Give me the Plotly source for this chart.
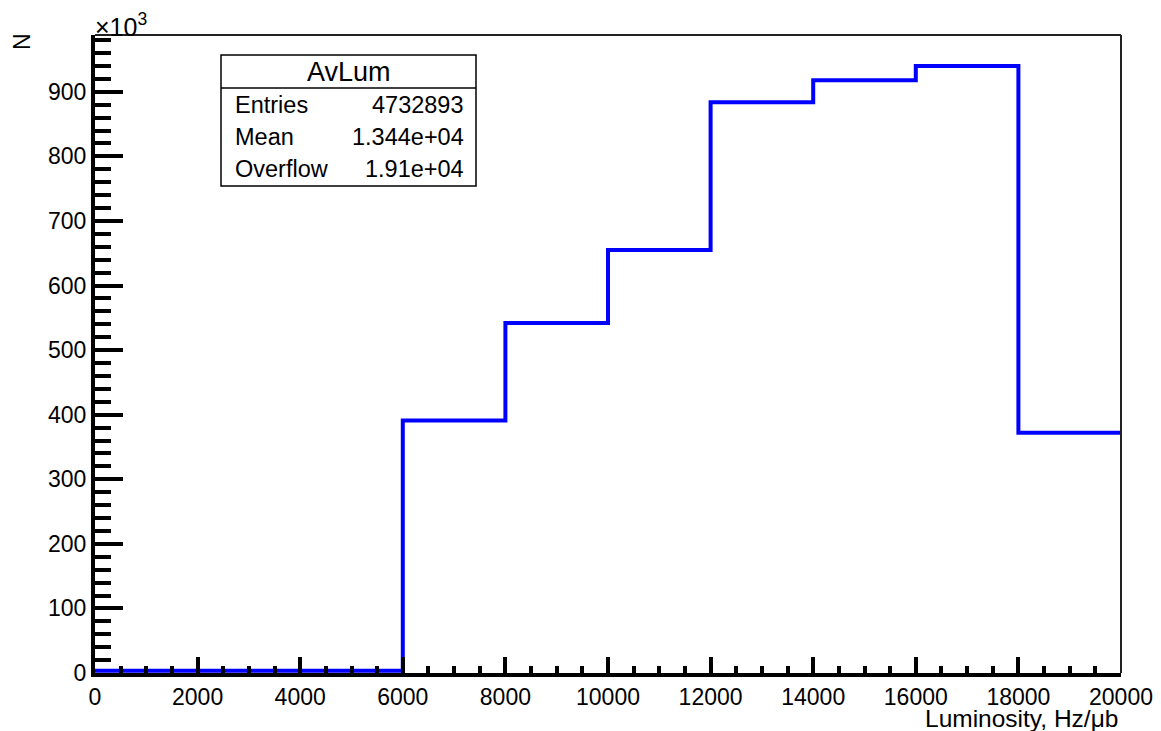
import plotly.graph_objects as go

# Histogram "AvLum": bin edges and contents (counts)
bin_edges = [0, 2000, 4000, 6000, 8000, 10000, 12000, 14000, 16000, 18000, 20000]
counts = [3500, 3500, 3500, 391000, 542000, 655000, 884000, 918000, 940000, 372000]

stats_title = "AvLum"
stats_labels = ["Entries", "Mean", "Overflow"]
stats_values = ["4732893", "1.344e+04", "1.91e+04"]

y_tick_vals = [0, 100, 200, 300, 400, 500, 600, 700, 800, 900]
x_tick_vals = [0, 2000, 4000, 6000, 8000, 10000, 12000, 14000, 16000, 18000, 20000]
x_tick_text = [str(v) for v in x_tick_vals]
y_tick_text = [str(v) for v in y_tick_vals]

FONT = "Liberation Sans, Arial, sans-serif"
OFF = 8  # page body margin

y_k = [c / 1000 for c in counts]
xs = bin_edges
ys = y_k + [y_k[-1]]

fig = go.Figure()
fig.add_trace(go.Scatter(
    x=xs, y=ys, mode="lines", line=dict(color="#0000ff", width=4, shape="hv"),
    showlegend=False, hoverinfo="skip"))

L, R, T, B = 95 - OFF, 40, 35 - OFF, 58
W, H = 1161 - OFF, 731 - OFF

fig.update_layout(
    width=W, height=H,
    margin=dict(l=L, r=R, t=T, b=B, autoexpand=False),
    paper_bgcolor="white", plot_bgcolor="white",
    font=dict(family=FONT, color="black", size=23),
    xaxis=dict(range=[0, 20000], tickvals=x_tick_vals, ticktext=x_tick_text,
               ticks="inside", ticklen=16, automargin=False,
               tickwidth=4, tickcolor="black", showline=True, linewidth=4,
               linecolor="black", showgrid=False, zeroline=False,
               tickfont=dict(size=23, family=FONT),
               minor=dict(dtick=500, ticks="inside", ticklen=7, tickwidth=4,
                          tickcolor="black", showgrid=False)),
    yaxis=dict(range=[0, 988], tickvals=y_tick_vals, ticktext=y_tick_text,
               ticks="inside", ticklen=28, automargin=False,
               tickwidth=4, tickcolor="black", showline=True, linewidth=4,
               linecolor="black", showgrid=False, zeroline=False,
               tickfont=dict(size=23, family=FONT),
               minor=dict(dtick=20, ticks="inside", ticklen=16, tickwidth=4,
                          tickcolor="black", showgrid=False)),
)

# thin top/right frame
fig.add_shape(type="line", xref="paper", yref="paper", x0=0, x1=1, y0=1, y1=1,
              line=dict(color="#222222", width=2))
fig.add_shape(type="line", xref="paper", yref="paper", x0=1, x1=1, y0=0, y1=1,
              line=dict(color="#222222", width=2))

pw, ph = W - L - R, H - T - B
def px(x): return (x - OFF - L) / pw
def py(y): return (H - B - (y - OFF)) / ph

# axis titles
fig.add_annotation(text="N", xref="paper", yref="paper", x=px(22), y=py(42),
                   xanchor="center", yanchor="middle", textangle=-90,
                   showarrow=False, font=dict(size=23, family=FONT))
fig.add_annotation(text="×10<sup>3</sup>", xref="paper", yref="paper", x=px(93), y=py(25),
                   xanchor="left", yanchor="middle",
                   showarrow=False, font=dict(size=25, family=FONT))
fig.add_annotation(text="Luminosity, Hz/μb", xref="paper", yref="paper", x=px(1120), y=py(718),
                   xanchor="right", yanchor="middle",
                   showarrow=False, font=dict(size=24.5, family=FONT))

# stats box
bx0, bx1, by0, by1, bsep = 221, 476, 55, 186, 88
fig.add_shape(type="rect", xref="paper", yref="paper", x0=px(bx0), x1=px(bx1),
              y0=py(by1), y1=py(by0), line=dict(color="black", width=1.5),
              fillcolor="white", layer="above")
fig.add_shape(type="line", xref="paper", yref="paper", x0=px(bx0), x1=px(bx1),
              y0=py(bsep), y1=py(bsep), line=dict(color="black", width=1.5))
fig.add_annotation(text=stats_title, xref="paper", yref="paper",
                   x=px((bx0 + bx1) / 2), y=py(72), xanchor="center", yanchor="middle",
                   showarrow=False, font=dict(size=27, family=FONT))
row_y = [105, 137, 169]
for lab, val, ry in zip(stats_labels, stats_values, row_y):
    fig.add_annotation(text=lab, xref="paper", yref="paper", x=px(bx0 + 12), y=py(ry),
                       xanchor="left", yanchor="middle", showarrow=False,
                       font=dict(size=23.5, family=FONT))
    fig.add_annotation(text=val, xref="paper", yref="paper", x=px(bx1 - 10), y=py(ry),
                       xanchor="right", yanchor="middle", showarrow=False,
                       font=dict(size=23.5, family=FONT))

fig.write_html("out.html")
